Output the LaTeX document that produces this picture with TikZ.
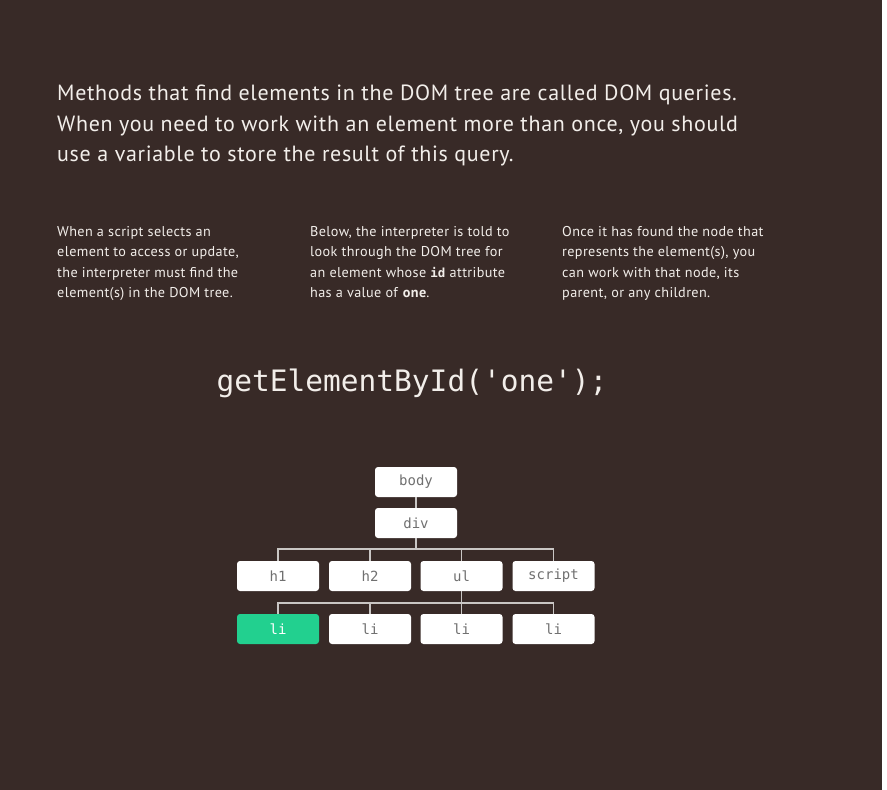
\documentclass[tikz,border=0pt]{standalone}
\usepackage{fontspec}
\setmainfont{PT Sans}
\setmonofont{DejaVu Sans Mono}
\newfontfamily\headfont{PT Sans}[LetterSpace=3]
\newfontfamily\colfont{PT Sans}[LetterSpace=2.6]
\definecolor{bg}{HTML}{382A27}
\definecolor{ink}{HTML}{F2EEEA}
\definecolor{boxtext}{HTML}{707070}
\definecolor{wire}{HTML}{C9C6C4}
\definecolor{hit}{HTML}{22D08F}
\tikzset{
  domnode/.style={draw=none, fill=white, rounded corners=3pt, minimum width=82pt, minimum height=30pt, inner sep=0pt, font=\ttfamily\fontsize{14}{15}\selectfont, text=boxtext},
  hitnode/.style={domnode, fill=hit, text=white},
  wireline/.style={draw=wire, line width=1.6pt},
  headtext/.style={anchor=north west, inner sep=0pt, align=left, text=ink, font=\headfont\fontsize{22}{30.5}\selectfont},
  coltext/.style={anchor=north west, inner sep=0pt, align=left, text=ink, font=\colfont\fontsize{14.2}{20.4}\selectfont},
}
\begin{document}
\begin{tikzpicture}[x=1pt,y=-1pt]
\useasboundingbox (0,0) rectangle (887,790);
\fill[white] (0,0) rectangle (887,790);
\fill[bg] (0,0) rectangle (882,790);

\node[headtext] (head) at (57,85) {Methods that find elements in the DOM tree are called DOM queries.\\When you need to work with an element more than once, you should\\use a variable to store the result of this query.};

\node[coltext] (c1) at (57,226) {When a script selects an\\element to access or update,\\the interpreter must find the\\element(s) in the DOM tree.};
\node[coltext] (c2) at (310,226) {Below, the interpreter is told to\\look through the DOM tree for\\an element whose {\ttfamily\bfseries\fontsize{12.5}{20.4}\selectfont id} attribute\\has a value of \textbf{one}.};
\node[coltext] (c3) at (562,226) {Once it has found the node that\\represents the element(s), you\\can work with that node, its\\parent, or any children.};

\node[anchor=center, inner sep=0pt, text=ink, font=\ttfamily\fontsize{29.5}{32}\selectfont] (code) at (412,383) {getElementById('one');};

\node[domnode] (body) at (416,482) {body};
\node[domnode] (div) at (416,523) {div};
\node[domnode] (h1) at (278,576) {h1};
\node[domnode] (h2) at (370,576) {h2};
\node[domnode] (ul) at (461.5,576) {ul};
\node[domnode] (script) at (553.5,576) {script};
\node[hitnode] (li1) at (278,629) {li};
\node[domnode] (li2) at (370,629) {li};
\node[domnode] (li3) at (461.5,629) {li};
\node[domnode] (li4) at (553.5,629) {li};

\coordinate (busA) at (416,549);
\coordinate (busB) at (461.5,603);

\draw[wireline] (body.south) -- (div.north);
\draw[wireline] (div.south) -- (busA);
\draw[wireline] (h1.north) |- (busA) -| (script.north);
\draw[wireline] (h2.north) -- (h2.north |- busA);
\draw[wireline] (ul.north) -- (ul.north |- busA);
\draw[wireline] (ul.south) -- (busB);
\draw[wireline] (li1.north) |- (busB) -| (li4.north);
\draw[wireline] (li2.north) -- (li2.north |- busB);
\draw[wireline] (li3.north) -- (li3.north |- busB);
\end{tikzpicture}
\end{document}
